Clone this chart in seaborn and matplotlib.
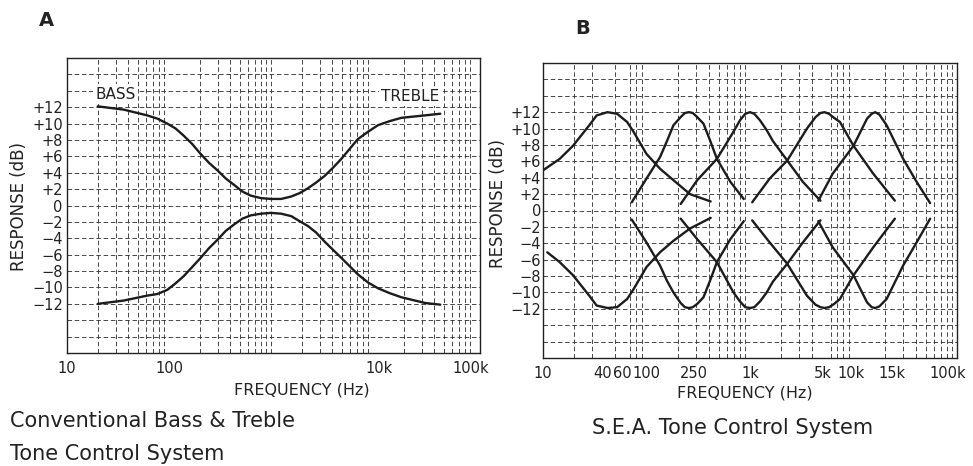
import numpy as np
import pandas as pd
import matplotlib
matplotlib.use('Agg')
import matplotlib.pyplot as plt
import matplotlib.transforms as mtrans
import seaborn as sns
from matplotlib.ticker import FixedLocator, LogLocator, NullFormatter

# --- A: conventional bass & treble (both boosted / both cut) ---
conv_freq = [20, 36, 61, 77, 96, 116, 140, 169, 204, 247, 298, 360, 436, 525, 635, 800, 1000,
             1260, 1580, 1900, 2300, 2770, 3350, 4050, 4900, 5900, 7100, 8950, 11200, 14600, 19000, 32500, 45700]
conv_boost = [12.1, 11.7, 11.0, 10.6, 10.0, 9.4, 8.5, 7.5, 6.3, 5.2, 4.3, 3.3, 2.5, 1.7, 1.2, 0.9, 0.8,
              0.8, 1.1, 1.5, 2.1, 2.8, 3.6, 4.6, 5.7, 6.9, 8.1, 9.0, 9.8, 10.3, 10.7, 11.0, 11.2]
conv_cut = [-12.0, -11.6, -11.0, -10.8, -10.3, -9.5, -8.6, -7.5, -6.4, -5.2, -4.2, -3.1, -2.3, -1.6, -1.2, -1.0, -0.9,
            -1.0, -1.3, -1.9, -2.5, -3.3, -4.4, -5.4, -6.4, -7.4, -8.4, -9.4, -10.1, -10.7, -11.2, -11.9, -12.1]

# --- B: S.E.A. five band system (boost and cut for each band) ---
sea_freq_40 = [10, 14.5, 19.5, 28, 33, 42, 52, 65, 75, 100, 135, 182, 263, 417]
sea_boost_40 = [4.9, 6.3, 7.9, 10.4, 11.6, 12.0, 11.8, 10.8, 9.6, 6.9, 5.1, 3.7, 2.0, 1.1]
sea_cut_40 = [-5.1, -6.3, -7.9, -10.4, -11.6, -11.9, -11.8, -10.8, -9.6, -6.9, -5.1, -3.7, -2.2, -0.9]

sea_freq_250 = [72, 100, 135, 158, 182, 214, 235, 257, 280, 309, 355, 410, 479, 646, 871]
sea_boost_250 = [1.0, 3.9, 6.5, 8.5, 10.4, 11.4, 11.9, 12.0, 11.9, 11.4, 10.6, 8.6, 6.3, 3.5, 1.4]
sea_cut_250 = [-1.1, -3.9, -6.7, -8.6, -10.0, -11.3, -11.8, -11.9, -11.8, -11.4, -10.6, -8.6, -6.3, -3.5, -1.3]

sea_freq_1k = [214, 309, 479, 692, 800, 900, 1000, 1100, 1250, 1450, 1660, 2290, 3240, 4790]
sea_boost_1k = [0.8, 3.7, 6.3, 9.6, 11.0, 11.8, 12.0, 11.8, 11.0, 9.8, 8.5, 6.1, 3.5, 1.2]
sea_cut_1k = [-1.0, -3.5, -6.3, -10.0, -11.1, -11.8, -11.9, -11.8, -11.1, -10.0, -8.7, -6.5, -3.9, -1.2]

sea_freq_5k = [1050, 1550, 2290, 3550, 4300, 4800, 5250, 5800, 6500, 7400, 10000, 15500, 25100]
sea_boost_5k = [1.0, 3.9, 6.1, 10.0, 11.4, 11.9, 12.0, 11.8, 11.3, 10.8, 7.9, 4.5, 1.2]
sea_cut_5k = [-1.2, -3.9, -6.5, -10.4, -11.5, -11.8, -11.9, -11.8, -11.4, -10.8, -7.9, -4.5, -1.0]

sea_freq_15k = [4570, 6300, 10000, 13500, 15000, 16200, 17800, 20900, 25000, 30200, 40700, 55000]
sea_boost_15k = [1.2, 4.5, 7.9, 11.2, 11.8, 12.0, 11.7, 10.4, 8.4, 6.3, 3.5, 0.9]
sea_cut_15k = [-1.3, -4.5, -7.9, -11.2, -11.8, -11.9, -11.7, -10.8, -8.8, -6.7, -3.9, -1.0]

a_ticks = [10, 100, 10000, 100000]
a_ticklabels = ['10', '100', '10k', '100k']
b_ticks = [10, 40, 60, 100, 250, 1000, 5000, 10000, 15000, 100000]
b_ticklabels = ['10', '40', '60', '100', '250', '1k', '5k', '10k', '15k', '100k']
db_ticks = list(range(-18, 19, 2))


def make_frame(curves):
    rows = []
    for name, (f, d) in curves.items():
        rows.append(pd.DataFrame({'freq': f, 'db': d, 'curve': name}))
    return pd.concat(rows, ignore_index=True)


df_a = make_frame({'boost': (conv_freq, conv_boost), 'cut': (conv_freq, conv_cut)})
sea_cut_freq_40 = [11] + sea_freq_40[1:]
df_b = make_frame({
    'b40': (sea_freq_40, sea_boost_40), 'c40': (sea_cut_freq_40, sea_cut_40),
    'b250': (sea_freq_250, sea_boost_250), 'c250': (sea_freq_250, sea_cut_250),
    'b1k': (sea_freq_1k, sea_boost_1k), 'c1k': (sea_freq_1k, sea_cut_1k),
    'b5k': (sea_freq_5k, sea_boost_5k), 'c5k': (sea_freq_5k, sea_cut_5k),
    'b15k': (sea_freq_15k, sea_boost_15k), 'c15k': (sea_freq_15k, sea_cut_15k),
})

sns.set_style('white')
plt.rcParams['font.family'] = ['DejaVu Sans']

fig = plt.figure(figsize=(9.73, 4.66), dpi=100)
ax_a = fig.add_axes([67 / 973, 1 - 353 / 466, 413 / 973, 295 / 466])
ax_b = fig.add_axes([543 / 973, 1 - 358 / 466, 414 / 973, 295 / 466])

grid_kw = dict(color='#3a3a3a', lw=0.65, linestyle=(0, (5, 3)))


def style_axes(ax, df, xlim, ticks, labels, ypad):
    sns.lineplot(data=df, x='freq', y='db', units='curve', estimator=None,
                 color='#1c1c1c', lw=1.7, ax=ax, legend=False)
    ax.set_xscale('log')
    ax.set_xlim(*xlim)
    ax.set_ylim(-18, 18)
    ax.xaxis.set_major_locator(FixedLocator(ticks))
    ax.set_xticklabels(labels)
    ax.xaxis.set_minor_locator(LogLocator(base=10, subs=np.arange(1, 10) * 1.0, numticks=100))
    ax.xaxis.set_minor_formatter(NullFormatter())
    ax.set_yticks(db_ticks)
    ax.set_yticklabels([('+%d' % v if v > 0 else ('0' if v == 0 else '\u2212%d' % -v))
                        if abs(v) <= 12 else '' for v in db_ticks])
    ax.grid(False)
    ax.grid(True, which='minor', axis='x', **grid_kw)
    ax.grid(True, which='major', axis='y', **grid_kw)
    ax.tick_params(axis='both', which='both', length=0, labelsize=10.5, colors='#222222')
    ax.tick_params(axis='y', pad=ypad)
    ax.tick_params(axis='x', pad=6)
    for s in ax.spines.values():
        s.set_color('#222222')
        s.set_linewidth(1.0)
    ax.set_xlabel('FREQUENCY (Hz)', fontsize=11.5, color='#222222')
    ax.set_ylabel('RESPONSE (dB)', fontsize=12, color='#222222')


style_axes(ax_a, df_a, (10, 112000), a_ticks, a_ticklabels, 3)
style_axes(ax_b, df_b, (10, 100000), b_ticks, b_ticklabels, 1.5)

# nudge crowded tick labels the way the original print does
shifts_a = {'10k': 6, '100k': -4}
shifts_b = {'40': -3, '60': -1, '250': 6, '10k': -2, '15k': 20, '100k': -9}
for ax, shifts in ((ax_a, shifts_a), (ax_b, shifts_b)):
    for lab in ax.get_xticklabels():
        dx = shifts.get(lab.get_text(), 0)
        if dx:
            lab.set_transform(lab.get_transform() + mtrans.ScaledTranslation(dx / 100, 0, fig.dpi_scale_trans))

ax_a.xaxis.set_label_coords(0.569, -0.10)
ax_a.yaxis.set_label_coords(-0.094, 0.495)
ax_b.xaxis.set_label_coords(0.488, -0.092)
ax_b.yaxis.set_label_coords(-0.087, 0.525)

box = dict(facecolor='white', edgecolor='none', pad=1.5)
ax_a.text(19, 13.6, 'BASS', fontsize=11, ha='left', va='center', color='#222222', bbox=box)
ax_a.text(45000, 13.3, 'TREBLE', fontsize=11, ha='right', va='center', color='#222222', bbox=box)

fig.text(46 / 973, 1 - 20 / 466, 'A', fontsize=14, fontweight='bold', ha='center', va='center', color='#222222')
fig.text(583 / 973, 1 - 28 / 466, 'B', fontsize=14, fontweight='bold', ha='center', va='center', color='#222222')

fig.text(10 / 973, 1 - 427 / 466, 'Conventional Bass & Treble', fontsize=15, ha='left', va='baseline', color='#222222')
fig.text(10 / 973, 1 - 460 / 466, 'Tone Control System', fontsize=15, ha='left', va='baseline', color='#222222')
fig.text(733 / 973, 1 - 434 / 466, 'S.E.A. Tone Control System', fontsize=15, ha='center', va='baseline', color='#222222')

fig.savefig('out.png', dpi=100, facecolor='white')
